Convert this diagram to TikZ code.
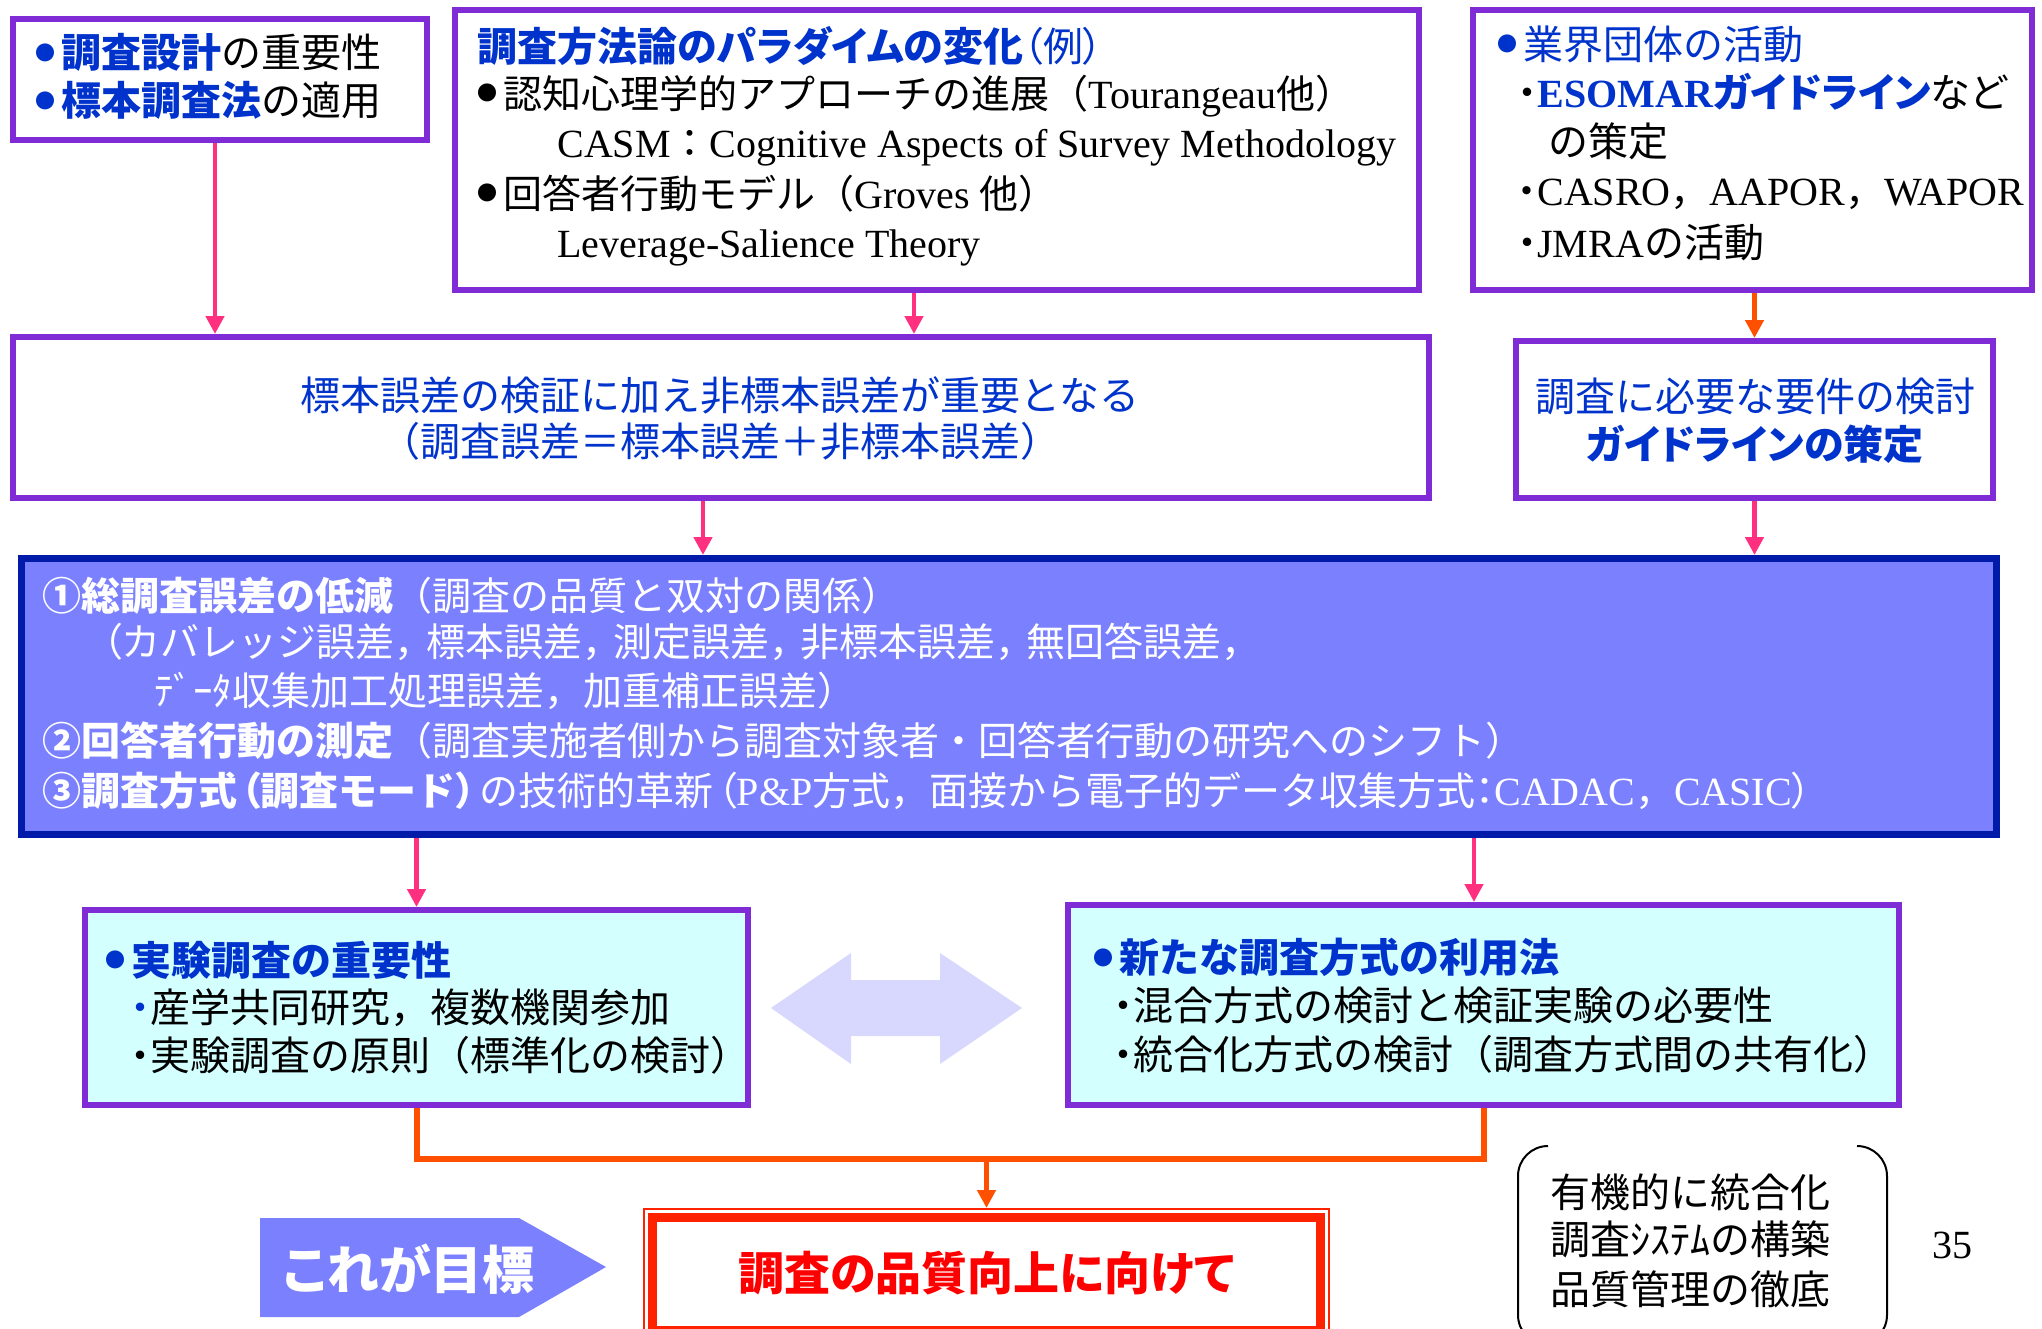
\documentclass[tikz,border=0pt]{standalone}
\usepackage{fontspec}
\setmainfont{Noto Sans CJK JP}
\newfontfamily\tm{Liberation Serif}
\usetikzlibrary{arrows.meta}
\definecolor{pur}{RGB}{128,44,214}
\definecolor{blu}{RGB}{0,51,204}
\definecolor{pnk}{RGB}{255,48,128}
\definecolor{org}{RGB}{255,80,0}
\definecolor{fbl}{RGB}{123,128,255}
\definecolor{dbl}{RGB}{0,26,170}
\definecolor{cyn}{RGB}{212,255,255}
\definecolor{lav}{RGB}{216,216,255}
\definecolor{rbox}{RGB}{255,34,0}
\definecolor{rtxt}{RGB}{255,0,0}
\newcommand\fs{\fontsize{20pt}{24pt}\selectfont}
\newcommand\fsb{\fontsize{19.5pt}{24pt}\selectfont}
\newcommand\pa{\addfontfeature{RawFeature=+palt}}
\newcommand\B[1]{{\bfseries\color{blu}#1}}
\newcommand\T[1]{{\tm\fontsize{20pt}{24pt}\selectfont #1}}
\newcommand\bul{\makebox[13pt][l]{\fontsize{10pt}{10pt}\selectfont\raisebox{3.6pt}{●}}}
\newcommand\dt{\makebox[10pt][c]{・}}
\newcommand\lp{{\kern2pt\pa （}}
\newcommand\rp{{\pa ）\kern2pt}}
\newcommand\cm{\makebox[0.8em][l]{，}}
\tikzset{
  box/.style={draw=pur, line width=3pt, inner sep=0pt},
  txt/.style={anchor=base west, inner sep=0pt, font=\fs},
  txtb/.style={anchor=base west, inner sep=0pt, font=\fsb},
  txtc/.style={anchor=base, inner sep=0pt, font=\fs},
  pk/.style={draw=pnk, line width=2.25pt, -{Triangle[length=9pt,width=9pt]}},
  orr/.style={draw=org, line width=2.25pt, -{Triangle[length=9pt,width=9pt]}},
  orl/.style={draw=org, line width=3pt},
}
\begin{document}
\begin{tikzpicture}[x=0.5pt,y=-0.5pt]
\useasboundingbox (0,0) rectangle (2042,1329);
\clip (0,0) rectangle (2042,1329);
\fill[white] (0,0) rectangle (2042,1329);

% boxes
\node[box, minimum width=207pt, minimum height=60.5pt] (A) at (220,79.5) {};
\node[box, minimum width=482pt, minimum height=140pt] (B) at (937,150) {};
\node[box, minimum width=279.5pt, minimum height=140pt] (C) at (1752.5,150) {};
\node[box, minimum width=708pt, minimum height=80.5pt] (D) at (721,417.5) {};
\node[box, minimum width=238.5pt, minimum height=78.5pt] (E) at (1754.5,419.5) {};
\node[draw=dbl, fill=fbl, line width=3.5pt, inner sep=0pt, minimum width=987.5pt, minimum height=138pt] (F) at (1009,696.5) {};
\node[box, fill=cyn, minimum width=331.5pt, minimum height=97.5pt] (G) at (416.5,1007.5) {};
\node[box, fill=cyn, minimum width=415.5pt, minimum height=100pt] (H) at (1483.5,1005) {};
\node[draw=rbox, line width=1pt, inner sep=0pt, minimum width=342.5pt, minimum height=65pt] (I) at (986.5,1274) {};
\draw[rbox, line width=4.5pt] ([shift={(4.75pt,-4.75pt)}]I.north west) rectangle ([shift={(-4.75pt,4.75pt)}]I.south east);

% box A
\node[txt] (a1) at (35,67.5) {\B{\bul 調査設計}の重要性};
\node[txt] (a2) at (35,115.5) {\B{\bul 標本調査法}の適用};
% box B
\node[txt] (b1) at (477,61) {\pa\B{調査方法論のパラダイムの変化}{\color{blu}（例）}};
\node[txtb] (b2) at (477,108) {\bul 認知心理学的アプローチの進展（\T{Tourangeau}他）};
\node[txtb] (b3) at (557,157) {\T{CASM}：\T{Cognitive Aspects of Survey Methodology}};
\node[txtb] (b4) at (477,208) {\bul 回答者行動モデル（\T{Groves }他）};
\node[txtb] (b5) at (557,257) {\T{Leverage-Salience Theory}};
% box C
\node[txt] (c1) at (1497,59) {{\color{blu}\bul 業界団体の活動}};
\node[txt] (c2) at (1517,107) {\pa\dt\B{\T{\bfseries ESOMAR}ガイドライン}など};
\node[txt] (c3) at (1548,156) {の策定};
\node[txtb] (c4) at (1517,205) {\dt\T{CASRO}，\T{AAPOR}，\T{WAPOR}};
\node[txt] (c5) at (1517,257) {\dt\T{JMRA}の活動};
% box D, E
\node[txtc, text=blu] (d1) at (720,410) {標本誤差の検証に加え非標本誤差が重要となる};
\node[txtc, text=blu] (d2) at (720,456.5) {（調査誤差＝標本誤差＋非標本誤差）};
\node[txtc, text=blu] (e1) at (1755,411) {調査に必要な要件の検討};
\node[txtc] (e2) at (1755,459) {\pa\B{ガイドラインの策定}};
% box F
\node[txtb, text=white] (f1) at (42,610) {{\bfseries ①総調査誤差の低減}（調査の品質と双対の関係）};
\node[txtb, text=white] (f2) at (98,656.5) {\lp カバレッジ誤差\cm 標本誤差\cm 測定誤差\cm 非標本誤差\cm 無回答誤差\cm};
\node[txtb, text=white] (f3) at (154,705) {ﾃﾞｰﾀ収集加工処理誤差，加重補正誤差）};
\node[txtb, text=white] (f4) at (42,755.5) {{\bfseries ②回答者行動の測定}（調査実施者側から調査対象者・回答者行動の研究へのシフト）};
\node[txtb, text=white] (f5) at (42,805.5) {{\bfseries ③調査方式\lp 調査モード\rp}の技術的革新\lp\T{P\&P}方式，面接から電子的データ収集方式{\pa ：}\T{CADAC}，\T{CASIC}\rp};
% box G, H
\node[txt] (g1) at (105,975) {\B{\bul 実験調査の重要性}};
\node[txt] (g2) at (130,1022.5) {{\color{blu}\dt}産学共同研究，複数機関参加};
\node[txt] (g3) at (130,1070.5) {\dt 実験調査の原則（標準化の検討）};
\node[txt] (h1) at (1093,972.5) {\B{\bul 新たな調査方式の利用法}};
\node[txt] (h2) at (1113,1020) {\dt 混合方式の検討と検証実験の必要性};
\node[txt] (h3) at (1113,1069.5) {\dt 統合化方式の検討（調査方式間の共有化）};

% double arrow
\fill[lav] (771,1008) -- (851,953) -- (851,980) -- (940,980) -- (940,953) -- (1022,1008) -- (940,1064) -- (940,1036) -- (851,1036) -- (851,1064) -- cycle;
% goal pentagon
\fill[fbl] (260,1218) -- (519,1218) -- (606,1267) -- (519,1317) -- (260,1317) -- cycle;
\node[anchor=base, inner sep=0pt, font=\fontsize{26pt}{30pt}\selectfont\bfseries\pa, text=white] (goal) at (409,1289) {これが目標};
\node[anchor=base, inner sep=0pt, font=\fontsize{23pt}{26pt}\selectfont\bfseries\pa, text=rtxt] (it) at (986.5,1290) {調査の品質向上に向けて};

% bracket pair
\draw[line width=1pt, rounded corners=15pt] (1548,1146) -- (1518,1146) -- (1518,1345) -- (1548,1345);
\draw[line width=1pt, rounded corners=15pt] (1857,1146) -- (1887,1146) -- (1887,1345) -- (1857,1345);
\node[txt] (k1) at (1550,1207.5) {有機的に統合化};
\node[txt] (k2) at (1550,1254.5) {調査ｼｽﾃﾑの構築};
\node[txt] (k3) at (1550,1304.5) {品質管理の徹底};
\node[anchor=base west, inner sep=0pt, font=\fs\tm] (pg) at (1932,1258) {35};

% connectors
\draw[pk] ([xshift=-2.5pt]A.south) -- ([xshift=-2.5pt]A.south |- D.north);
\draw[pk] ([xshift=-11.5pt]B.south) -- ([xshift=-11.5pt]B.south |- D.north);
\draw[orr] (C.south -| E.north) -- (E.north);
\draw[pk] ([xshift=-9pt]D.south) -- ([xshift=-9pt]D.south |- F.north);
\draw[pk] (E.south) -- (E.south |- F.north);
\draw[pk] (G.north |- F.south) -- (G.north);
\draw[pk] ([xshift=-4.75pt]H.north |- F.south) -- ([xshift=-4.75pt]H.north);
\coordinate (J) at (986.5,1159);
\draw[orl] (G.south) |- (J) -| (H.south);
\draw[orr] (J) -- (I.north);
\end{tikzpicture}
\end{document}
